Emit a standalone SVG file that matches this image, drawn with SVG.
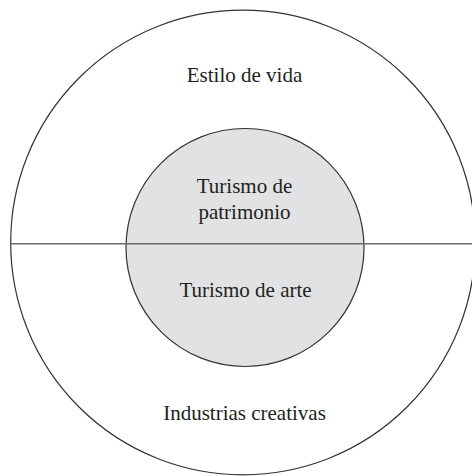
<svg xmlns="http://www.w3.org/2000/svg" width="472" height="476" viewBox="0 0 472 476">
<style>
.lbl{font-family:"Liberation Serif","Times New Roman",serif;font-size:21px;fill:#231f20;text-anchor:middle}
.ring{fill:none;stroke:#333;stroke-width:1.2}
.core{fill:#e1e2e4;stroke:#333;stroke-width:1.2}
.div{stroke:#6a6a6a;stroke-width:1.5}
</style>
<rect width="472" height="476" fill="#fff"/>
<g id="outer">
<circle class="ring" cx="243" cy="242.5" r="232.3"/>
<text class="lbl" x="244.5" y="82">Estilo de vida</text>
<text class="lbl" x="244.5" y="420">Industrias creativas</text>
</g>
<g id="inner">
<circle class="core" cx="245" cy="247.5" r="119"/>
<text class="lbl" x="244.5" y="193">Turismo de</text>
<text class="lbl" x="244.5" y="219">patrimonio</text>
<text class="lbl" x="245.5" y="297">Turismo de arte</text>
</g>
<g id="connectors">
<line class="div" x1="10.7" y1="243.7" x2="472" y2="243.7"/>
</g>
</svg>
